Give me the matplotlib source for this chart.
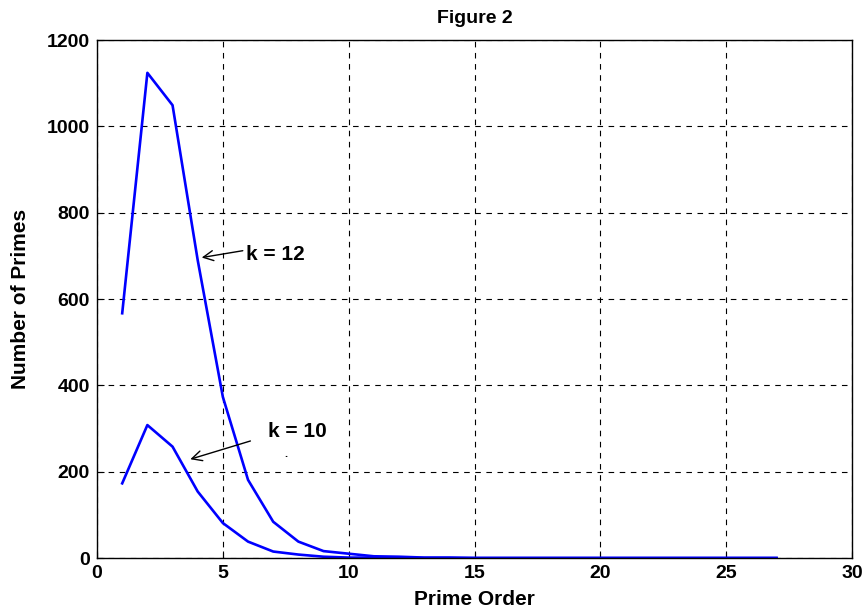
import matplotlib.pyplot as plt
import numpy as np

plt.rcParams['font.family'] = ['Liberation Sans', 'DejaVu Sans']
plt.rcParams['font.weight'] = 'bold'

# orden del primo
orden = np.arange(1, 28)

# numero de primos para k = 12 y k = 10
primos_k12 = [567, 1124, 1049, 690, 373, 181, 84, 38, 16, 10, 4, 3, 1, 1,
              0, 0, 0, 0, 0, 0, 0, 0, 0, 0, 0, 0, 0]
primos_k10 = [173, 308, 258, 154, 81, 38, 15, 8, 3, 1, 1, 0, 0, 0,
              0, 0, 0, 0, 0, 0, 0, 0, 0, 0, 0, 0, 0]

fig = plt.figure(figsize=(8.68, 6.13), dpi=100)
ax = fig.add_axes([0.1118, 0.0897, 0.8698, 0.845])

ax.plot(orden, primos_k12, color='#0000ff', linewidth=1.9)
ax.plot(orden, primos_k10, color='#0000ff', linewidth=1.9)

ax.set_xlim(0, 30)
ax.set_ylim(0, 1200)
ax.set_xticks(np.arange(0, 31, 5))
ax.set_yticks(np.arange(0, 1201, 200))
ax.grid(True, color='black', linestyle=(0, (5, 5)), linewidth=0.8)
ax.tick_params(direction='in', labelsize=14, length=5, pad=5)
for s in ax.spines.values():
    s.set_linewidth(1.0)

ax.set_title('Figure 2', fontsize=14, fontweight='bold', y=1.042, va='center', pad=0)
ax.set_xlabel('Prime Order', fontsize=15, fontweight='bold')
ax.set_ylabel('Number of Primes', fontsize=15, fontweight='bold')
ax.xaxis.set_label_coords(0.5, -0.081)
ax.xaxis.label.set_va('center')
ax.yaxis.set_label_coords(-0.102, 0.5)
ax.yaxis.label.set_va('center')

# etiquetas con flechas
ax.annotate('', xy=(4.05, 695), xytext=(5.9, 713),
            arrowprops=dict(arrowstyle='->', color='black', lw=1, mutation_scale=18))
ax.text(5.9, 702, 'k = 12', fontsize=15, fontweight='bold', va='center')
ax.annotate('', xy=(3.6, 227), xytext=(6.2, 273),
            arrowprops=dict(arrowstyle='->', color='black', lw=1, mutation_scale=18))
ax.text(6.8, 292, 'k = 10', fontsize=15, fontweight='bold', va='center')
ax.text(7.45, 235, '.', fontsize=8)

plt.savefig('out.png', dpi=100)
